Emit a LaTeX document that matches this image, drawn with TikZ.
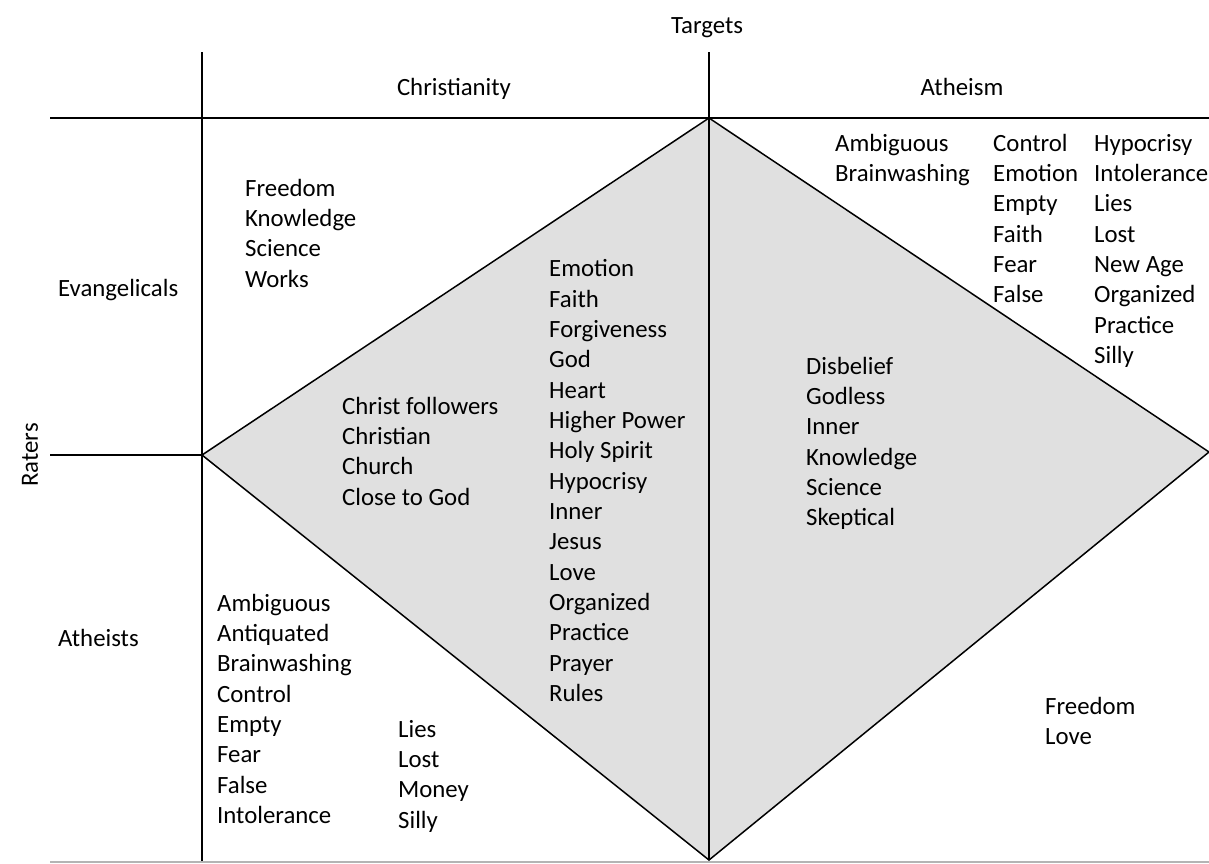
\documentclass[tikz,border=0pt]{standalone}
\usepackage{fontspec}
\setmainfont{Carlito}
\definecolor{diamondgray}{HTML}{E0E0E0}
\definecolor{floorgray}{HTML}{B4B4B4}

\begin{document}
\begin{tikzpicture}[x=1pt, y=-1pt]
    \tikzstyle{word} = [anchor=base west, inner sep=0pt, font=\fontsize{24.8}{30.3}\selectfont]
    \tikzstyle{head} = [anchor=base, inner sep=0pt, font=\fontsize{24.8}{30.3}\selectfont]
    \tikzstyle{edge} = [draw, line width=1.5pt]
    \useasboundingbox (0, 0) rectangle (1209, 863);
    % the diamond
    \coordinate (west) at (202, 455);
    \coordinate (north) at (709, 118);
    \coordinate (east) at (1209, 452);
    \coordinate (south) at (709, 860);
    \fill[diamondgray] (west) -- (north) -- (east) -- (south) -- cycle;
    \draw[edge] (west) -- (north) -- (east) -- (south) -- cycle;
    \draw[edge] (north) -- (south);
    % frame
    \coordinate (lefttop) at (202, 52);
    \coordinate (midtop) at (709, 52);
    \coordinate (leftbottom) at (202, 863);
    \coordinate (rowstart) at (50, 118);
    \coordinate (rowend) at (1209, 118);
    \coordinate (midstart) at (50, 455);
    \coordinate (bottomstart) at (50, 862);
    \coordinate (bottomend) at (1209, 862);
    \draw[edge] (lefttop) -- (leftbottom);
    \draw[edge] (midtop) -- (north);
    \draw[line width=2.4pt] (rowstart) -- (rowend);
    \draw[edge] (midstart) -- (west);
    \draw[floorgray, line width=1.2pt] (bottomstart) -- (bottomend);
    % headers
    \node[head] (targets) at (707, 33) {Targets};
    \node[head] (christianity) at (454, 95) {Christianity};
    \node[head] (atheism) at (962, 95) {Atheism};
    \node[head, anchor=center, rotate=90] (raters) at (30, 455) {Raters};
    \node[word] (evangelicals) at (58, 296) {Evangelicals};
    \node[word] (atheists) at (58, 646) {Atheists};
    % evangelicals on christianity
    \foreach \w [count=\i] in {Freedom, Knowledge, Science, Works}
      \node[word] (ec-\i) at (245, 196 + \i * 30.35 - 30.35) {\w};
    \foreach \w [count=\i] in {Christ followers, Christian, Church, Close to God}
      \node[word] (cin-\i) at (342, 414 + \i * 30.35 - 30.35) {\w};
    \foreach \w [count=\i] in {Emotion, Faith, Forgiveness, God, Heart, Higher Power,
        Holy Spirit, Hypocrisy, Inner, Jesus, Love, Organized, Practice, Prayer, Rules}
      \node[word] (cmid-\i) at (549, 276.7 + \i * 30.35 - 30.35) {\w};
    % atheism
    \foreach \w [count=\i] in {Disbelief, Godless, Inner, Knowledge, Science, Skeptical}
      \node[word] (ain-\i) at (806, 374 + \i * 30.35 - 30.35) {\w};
    \foreach \w [count=\i] in {Ambiguous, Brainwashing}
      \node[word] (ea-\i) at (835, 151 + \i * 30.35 - 30.35) {\w};
    \foreach \w [count=\i] in {Control, Emotion, Empty, Faith, Fear, False}
      \node[word] (eb-\i) at (993, 151 + \i * 30.35 - 30.35) {\w};
    \foreach \w [count=\i] in {Hypocrisy, Intolerance, Lies, Lost, New Age, Organized,
        Practice, Silly}
      \node[word] (ed-\i) at (1094, 151 + \i * 30.35 - 30.35) {\w};
    % atheists
    \foreach \w [count=\i] in {Ambiguous, Antiquated, Brainwashing, Control, Empty,
        Fear, False, Intolerance}
      \node[word] (ac-\i) at (217, 611 + \i * 30.35 - 30.35) {\w};
    \foreach \w [count=\i] in {Lies, Lost, Money, Silly}
      \node[word] (ad-\i) at (398, 737 + \i * 30.35 - 30.35) {\w};
    \foreach \w [count=\i] in {Freedom, Love}
      \node[word] (aa-\i) at (1045, 714 + \i * 30.35 - 30.35) {\w};
\end{tikzpicture}
\end{document}
